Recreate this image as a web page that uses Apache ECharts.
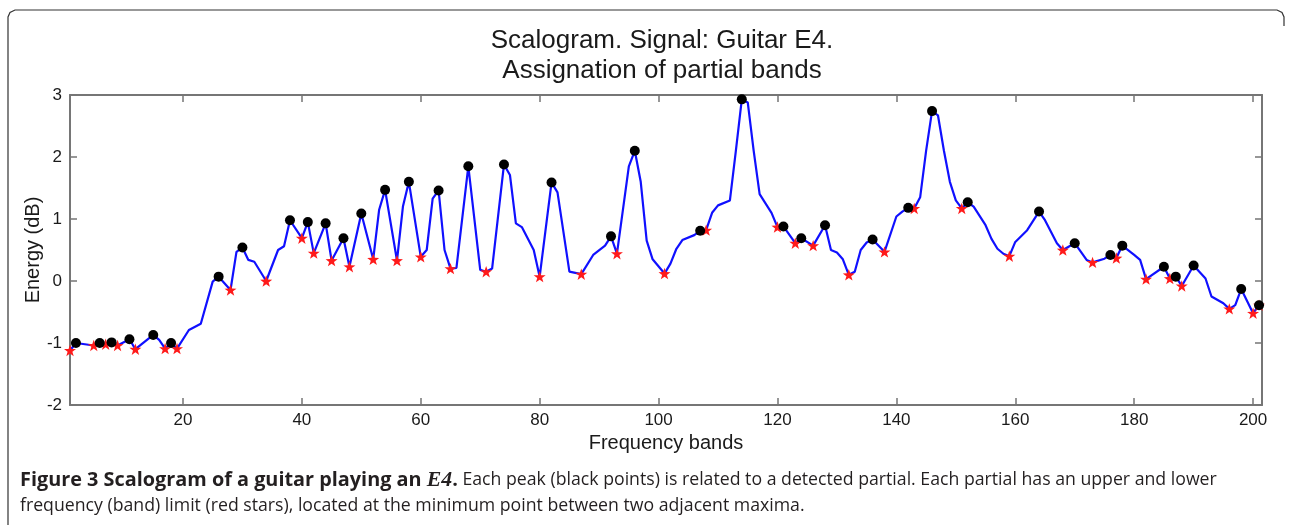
<!DOCTYPE html>
<html>
<head>
<meta charset="utf-8">
<script src="https://cdn.jsdelivr.net/npm/echarts@6/dist/echarts.min.js"></script>
<style>
  html, body { margin: 0; padding: 0; background: #fff; }
  #chart { width: 1292px; height: 525px; }
</style>
</head>
<body>
<div id="chart"></div>
<script>
// scalogram curve (band, energy in dB)
var bands = [1, 2, 5, 6, 7, 8, 9, 11, 12, 15, 16, 17, 18, 19, 21, 23, 25, 26, 28, 29, 30, 31, 32, 34, 36, 37, 38, 40, 41, 42, 44, 45, 47, 48, 50, 52, 53, 54, 56, 57, 58, 60, 61, 62, 63, 64, 65, 66, 68, 70, 71, 72, 74, 75, 76, 77, 79, 80, 82, 83, 85, 87, 89, 91, 92, 93, 95, 96, 97, 98, 99, 101, 102, 103, 104, 106, 107, 108, 109, 110, 112, 113, 114, 115, 116, 117, 119, 120, 121, 123, 124, 126, 128, 129, 130, 131, 132, 133, 134, 135, 136, 138, 140, 141, 142, 143, 144, 145, 146, 147, 148, 149, 150, 151, 152, 153, 155, 156, 157, 158, 159, 160, 162, 164, 165, 167, 168, 170, 172, 173, 175, 176, 177, 178, 180, 181, 182, 185, 186, 187, 188, 190, 192, 193, 195, 196, 197, 198, 200, 201];
var energy = [-1.12, -1.0, -1.04, -1.0, -1.02, -0.99, -1.04, -0.94, -1.10, -0.87, -0.95, -1.09, -1.0, -1.09, -0.79, -0.69, -0.01, 0.07, -0.145, 0.47, 0.54, 0.34, 0.31, 0.0, 0.5, 0.56, 0.98, 0.69, 0.95, 0.45, 0.93, 0.33, 0.69, 0.23, 1.09, 0.35, 1.15, 1.47, 0.33, 1.2, 1.60, 0.39, 0.5, 1.33, 1.46, 0.5, 0.2, 0.21, 1.85, 0.18, 0.15, 0.2, 1.88, 1.71, 0.93, 0.87, 0.5, 0.07, 1.59, 1.43, 0.15, 0.11, 0.42, 0.57, 0.72, 0.44, 1.85, 2.10, 1.6, 0.65, 0.35, 0.12, 0.28, 0.52, 0.66, 0.74, 0.81, 0.82, 1.1, 1.22, 1.30, 2.1, 2.93, 2.88, 2.1, 1.4, 1.1, 0.87, 0.88, 0.61, 0.69, 0.57, 0.90, 0.5, 0.46, 0.35, 0.1, 0.15, 0.5, 0.62, 0.67, 0.47, 1.04, 1.12, 1.18, 1.17, 1.35, 2.1, 2.74, 2.67, 2.1, 1.6, 1.3, 1.17, 1.27, 1.2, 0.9, 0.68, 0.52, 0.44, 0.40, 0.63, 0.82, 1.12, 0.98, 0.61, 0.5, 0.61, 0.34, 0.30, 0.36, 0.42, 0.37, 0.57, 0.42, 0.34, 0.03, 0.23, 0.04, 0.07, -0.08, 0.25, 0.04, -0.25, -0.36, -0.45, -0.39, -0.13, -0.52, -0.39];

// detected partials (black points)
var peakBands = [2, 6, 8, 11, 15, 18, 26, 30, 38, 41, 44, 47, 50, 54, 58, 63, 68, 74, 82, 92, 96, 107, 114, 121, 124, 128, 136, 142, 146, 152, 164, 170, 176, 178, 185, 187, 190, 198, 201];
var peakEnergy = [-1.0, -1.0, -0.99, -0.94, -0.87, -1.0, 0.07, 0.54, 0.98, 0.95, 0.93, 0.69, 1.09, 1.47, 1.60, 1.46, 1.85, 1.88, 1.59, 0.72, 2.10, 0.81, 2.93, 0.88, 0.69, 0.90, 0.67, 1.18, 2.74, 1.27, 1.12, 0.61, 0.42, 0.57, 0.23, 0.07, 0.25, -0.13, -0.39];

// band limits (red stars)
var limitBands = [1, 5, 7, 9, 12, 17, 19, 28, 34, 40, 42, 45, 48, 52, 56, 60, 65, 71, 80, 87, 93, 101, 108, 120, 123, 126, 132, 138, 143, 151, 159, 168, 173, 177, 182, 186, 188, 196, 200, 201];
var limitEnergy = [-1.12, -1.04, -1.02, -1.04, -1.10, -1.09, -1.09, -0.145, 0.0, 0.69, 0.45, 0.33, 0.23, 0.35, 0.33, 0.39, 0.2, 0.15, 0.07, 0.11, 0.44, 0.12, 0.82, 0.87, 0.61, 0.57, 0.1, 0.47, 1.17, 1.17, 0.40, 0.5, 0.30, 0.37, 0.03, 0.04, -0.08, -0.45, -0.52, -0.39];

var xTicks = [20, 40, 60, 80, 100, 120, 140, 160, 180, 200];

function pairs(xs, ys) {
    var out = [];
    for (var i = 0; i < xs.length; i++) out.push([xs[i], ys[i]]);
    return out;
}

var starPath = 'path://M0,-10L2.35,-3.24L9.51,-3.09L3.8,1.24L5.88,8.09L0,4L-5.88,8.09L-3.8,1.24L-9.51,-3.09L-2.35,-3.24Z';
var axisGrey = '#767676';
var labelFont = "'Liberation Sans', Arial, sans-serif";

var chart = echarts.init(document.getElementById('chart'));
var option = {
    animation: false,
    backgroundColor: '#fff',
    grid: { left: 70, right: 30, top: 95, bottom: 120, containLabel: false, outerBoundsMode: 'none' },
    xAxis: [
        {
            type: 'value', min: 1, max: 201.5, position: 'bottom',
            name: 'Frequency bands', nameLocation: 'middle', nameGap: 25,
            nameTextStyle: { fontFamily: labelFont, fontSize: 20, color: '#1a1a1a' },
            axisLine: { show: true, onZero: false, lineStyle: { color: axisGrey, width: 2 } },
            axisTick: { show: true, inside: true, length: 7, customValues: xTicks, lineStyle: { color: axisGrey, width: 1.5 } },
            axisLabel: { customValues: xTicks, fontFamily: labelFont, fontSize: 17, color: '#1a1a1a', margin: 7 },
            splitLine: { show: false }
        },
        {
            type: 'value', min: 1, max: 201.5, position: 'top',
            axisLine: { show: true, onZero: false, lineStyle: { color: axisGrey, width: 2 } },
            axisTick: { show: true, inside: true, length: 7, customValues: xTicks, lineStyle: { color: axisGrey, width: 1.5 } },
            axisLabel: { show: false },
            splitLine: { show: false }
        }
    ],
    yAxis: [
        {
            type: 'value', min: -2, max: 3, interval: 1, position: 'left',
            name: 'Energy (dB)', nameLocation: 'middle', nameGap: 27, nameRotate: 90, nameMoveOverlap: false,
            nameTextStyle: { fontFamily: labelFont, fontSize: 20, color: '#1a1a1a' },
            axisLine: { show: true, onZero: false, lineStyle: { color: axisGrey, width: 2 } },
            axisTick: { show: true, inside: true, length: 7, lineStyle: { color: axisGrey, width: 1.5 } },
            axisLabel: { fontFamily: labelFont, fontSize: 17, color: '#1a1a1a', margin: 8 },
            splitLine: { show: false }
        },
        {
            type: 'value', min: -2, max: 3, interval: 1, position: 'right',
            axisLine: { show: true, onZero: false, lineStyle: { color: axisGrey, width: 2 } },
            axisTick: { show: true, inside: true, length: 7, lineStyle: { color: axisGrey, width: 1.5 } },
            axisLabel: { show: false },
            splitLine: { show: false }
        }
    ],
    series: [
        {
            name: 'scalogram', type: 'line', data: pairs(bands, energy),
            showSymbol: false, smooth: false,
            lineStyle: { color: '#1010ff', width: 2.2 },
            z: 2
        },
        {
            name: 'limits', type: 'scatter', data: pairs(limitBands, limitEnergy),
            symbol: starPath, symbolKeepAspect: true, symbolSize: 12,
            itemStyle: { color: '#ff1a1a', opacity: 1 },
            z: 3
        },
        {
            name: 'peaks', type: 'scatter', data: pairs(peakBands, peakEnergy),
            symbol: 'circle', symbolSize: 10,
            itemStyle: { color: '#000', opacity: 1 },
            z: 4
        }
    ],
    graphic: [
        {
            type: 'polyline', silent: true,
            shape: { points: [[8, 530], [8, 17], [10, 12.5], [15, 10], [1277, 10], [1282, 12.5], [1284, 17], [1284, 26]] },
            style: { fill: null, stroke: '#333', lineWidth: 1.2 }
        },
        {
            type: 'text', x: 662, y: 56, silent: true,
            style: {
                text: 'Scalogram. Signal: Guitar E4.\nAssignation of partial bands',
                fontFamily: labelFont, fontSize: 26, lineHeight: 30,
                fill: '#1a1a1a', align: 'center', verticalAlign: 'middle'
            }
        },
        {
            type: 'text', x: 20, y: 493, silent: true,
            style: {
                text: '{b|Figure 3 Scalogram of a guitar playing an }{i|E4}{b|.}{r| Each peak (black points) is related to a detected partial. Each partial has an upper and lower}\n{r|frequency (band) limit (red stars), located at the minimum point between two adjacent maxima.}',
                align: 'left', verticalAlign: 'middle',
                fontFamily: "'Open Sans', sans-serif", fontSize: 17.7, lineHeight: 26, fill: '#231f20',
                rich: {
                    b: { fontFamily: "'Open Sans', sans-serif", fontWeight: 'bold', fontSize: 19.85, lineHeight: 26, fill: '#231f20' },
                    i: { fontFamily: "'Liberation Serif', serif", fontWeight: 'bold', fontStyle: 'italic', fontSize: 21.8, lineHeight: 26, fill: '#231f20' },
                    r: { fontFamily: "'Open Sans', sans-serif", fontSize: 17.7, lineHeight: 26, fill: '#231f20' }
                }
            }
        }
    ]
};
chart.setOption(option);
</script>
</body>
</html>
